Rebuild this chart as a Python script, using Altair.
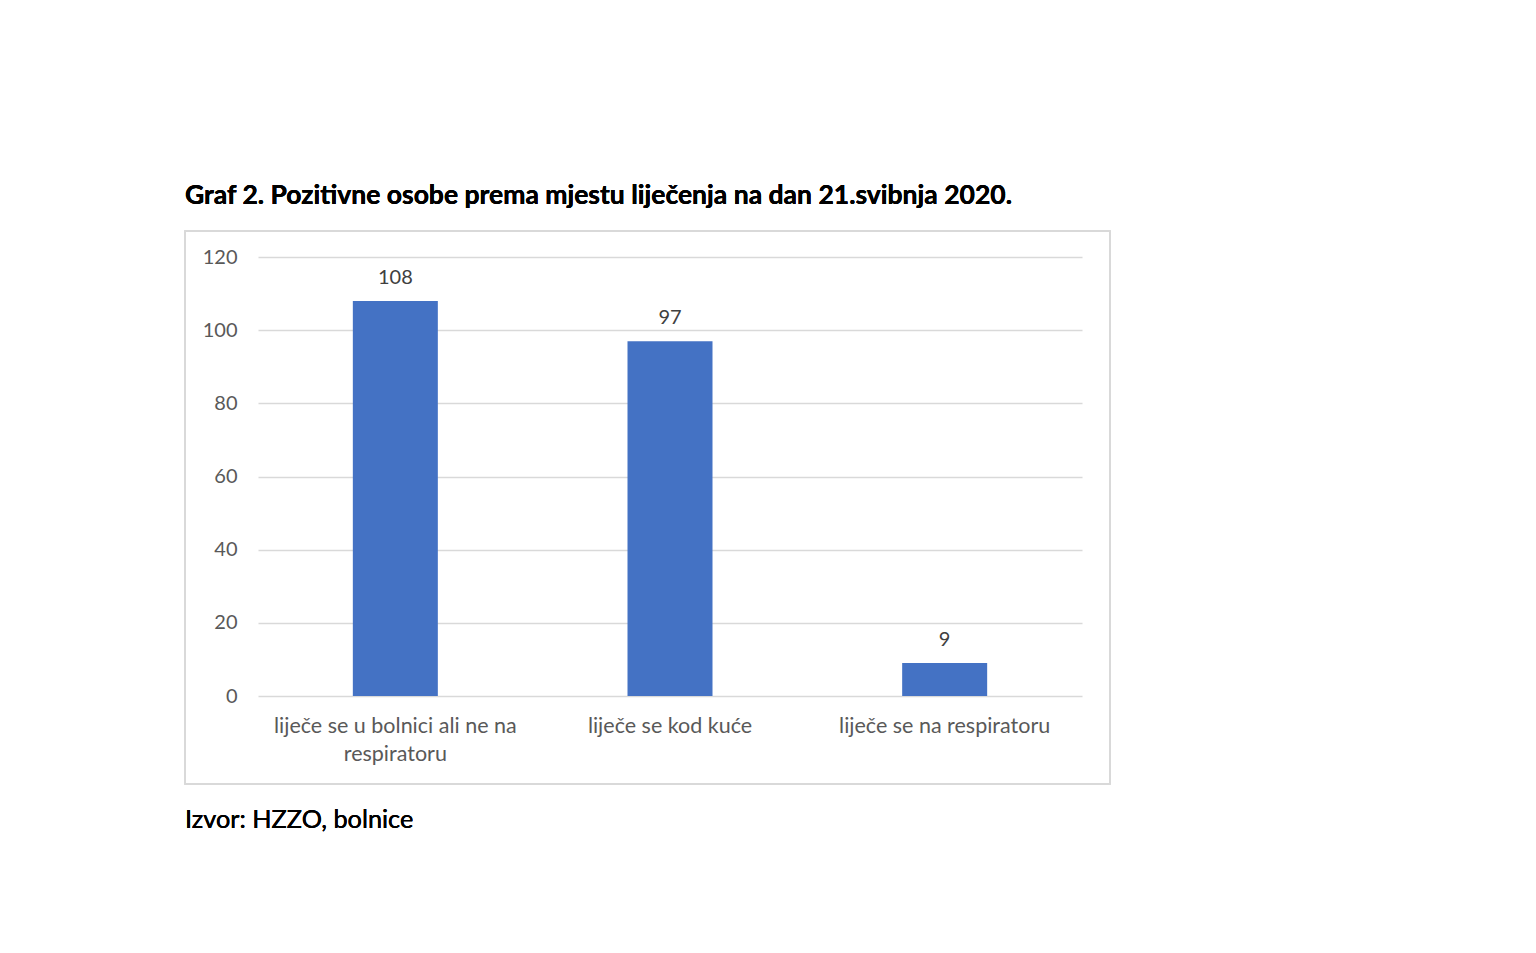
import json
import altair as alt
import pandas as pd

categories = [
    "liječe se u bolnici ali ne na respiratoru",
    "liječe se kod kuće",
    "liječe se na respiratoru",
]
values = [108, 97, 9]
label_lines = [
    ["liječe se u bolnici ali ne na", "respiratoru"],
    ["liječe se kod kuće"],
    ["liječe se na respiratoru"],
]
y_ticks = [0, 20, 40, 60, 80, 100, 120]
title_text = "Graf 2. Pozitivne osobe prema mjestu liječenja na dan 21.svibnja 2020."
source_text = "Izvor: HZZO, bolnice"

FONT = "Lato"
W, H = 824, 439

df = pd.DataFrame({"cat": categories, "val": values})

mapping = {c: l for c, l in zip(categories, label_lines)}
label_expr = json.dumps(mapping) + "[datum.value]"

x_enc = alt.X(
    "cat:N",
    sort=categories,
    scale=alt.Scale(paddingInner=0, paddingOuter=0),
    axis=alt.Axis(
        title=None, labelAngle=0, domain=False, ticks=False, tickSize=0,
        labelFont=FONT, labelFontSize=21.5, labelColor="#595959",
        labelPadding=19, labelLineHeight=28, labelExpr=label_expr,
        labelBaseline="top", labelLimit=400, grid=False,
    ),
)
y_enc = alt.Y(
    "val:Q",
    scale=alt.Scale(domain=[0, 120], nice=False),
    axis=alt.Axis(
        title=None, values=y_ticks, domain=False, ticks=False, tickSize=0,
        labelFont=FONT, labelFontSize=20, labelColor="#595959",
        labelPadding=21, grid=True, gridColor="#d9d9d9", gridWidth=1.3,
    ),
)

box = alt.Chart(df).mark_rect(filled=False, stroke="#d9d9d9", strokeWidth=1.5).encode(
    x=alt.value(-73), x2=alt.value(852), y=alt.value(-26), y2=alt.value(527)
)

bars = alt.Chart(df).mark_bar(color="#4472C4", size=85).encode(x=x_enc, y=y_enc)

texts = alt.Chart(df).mark_text(
    baseline="bottom", dy=-13, font=FONT, fontSize=20, color="#404040"
).encode(x=alt.X("cat:N", sort=categories), y="val:Q", text="val:Q")

title = alt.Chart(df).mark_text(
    align="left", baseline="middle", font=FONT, fontSize=26.5, fontWeight="bold", color="#000000"
).encode(x=alt.value(-73), y=alt.value(-61), text=alt.value(title_text))

source = alt.Chart(df).mark_text(
    align="left", baseline="middle", font=FONT, fontSize=25.3, color="#000000"
).encode(x=alt.value(-73), y=alt.value(563), text=alt.value(source_text))

chart = alt.layer(box, bars, texts, title, source).properties(
    width=W, height=H,
    background="white",
    autosize=alt.AutoSizeParams(type="none"),
    padding={"left": 250, "top": 249, "right": 400, "bottom": 150},
).configure_view(stroke=None, strokeWidth=0)

chart.save("out.html", embed_options={"renderer": "svg", "actions": False})
